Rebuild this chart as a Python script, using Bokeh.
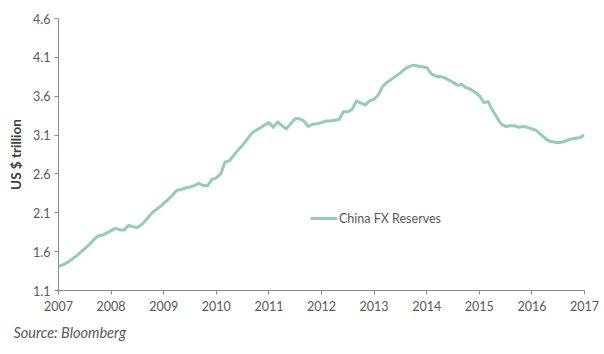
from bokeh.plotting import figure
from bokeh.models import FixedTicker, Legend, LegendItem, Range1d, Title
from bokeh.embed import file_html
from bokeh.resources import INLINE

# Monthly China FX reserves, US$ trillion, Jan 2007 .. Jan 2017
start_year = 2007
reserves = [
    1.41, 1.43, 1.46, 1.50, 1.54, 1.59, 1.64, 1.69, 1.75, 1.80, 1.81, 1.84,
    1.87, 1.90, 1.88, 1.88, 1.94, 1.92, 1.91, 1.95, 2.01, 2.08, 2.13, 2.17,
    2.22, 2.27, 2.33, 2.39, 2.40, 2.42, 2.43, 2.45, 2.48, 2.45, 2.45, 2.53,
    2.55, 2.60, 2.75, 2.77, 2.84, 2.91, 2.97, 3.04, 3.12, 3.16, 3.19, 3.23,
    3.26, 3.20, 3.27, 3.22, 3.18, 3.25, 3.31, 3.31, 3.28, 3.21, 3.24, 3.245,
    3.26, 3.28, 3.28, 3.29, 3.30, 3.40, 3.40, 3.43, 3.54, 3.51, 3.49, 3.54,
    3.56, 3.62, 3.73, 3.78, 3.82, 3.86, 3.90, 3.95, 3.98, 4.00, 3.99, 3.98,
    3.97, 3.89, 3.86, 3.85, 3.84, 3.81, 3.78, 3.74, 3.75, 3.71, 3.69, 3.65,
    3.61, 3.52, 3.53, 3.42, 3.33, 3.24, 3.21, 3.22, 3.22, 3.20, 3.21, 3.20,
    3.18, 3.16, 3.11, 3.06, 3.02, 3.01, 3.00, 3.01, 3.03, 3.05, 3.06, 3.07,
    3.10,
]
year_ticks = [2007, 2008, 2009, 2010, 2011, 2012, 2013, 2014, 2015, 2016, 2017]
y_ticks = [1.1, 1.6, 2.1, 2.6, 3.1, 3.6, 4.1, 4.6]
series_name = "China FX Reserves"
y_title = "US $ trillion"
source_text = "Source: Bloomberg"

x = [start_year + i / 12 for i in range(len(reserves))]

FONT = "Lato"
GRAY = "#595959"
AXIS = "#8c8c8c"
LINE = "#93cdb3"

p = figure(width=604, height=354, output_backend="svg", toolbar_location=None,
           x_range=Range1d(2007, 2017), y_range=Range1d(1.1, 4.6),
           min_border_left=58, min_border_right=20, min_border_top=18,
           min_border_bottom=64)
p.outline_line_color = None
p.xgrid.grid_line_color = None
p.ygrid.grid_line_color = None
p.background_fill_color = "white"
p.border_fill_color = "white"

r = p.line(x, reserves, line_color=LINE, line_width=3, line_join="round")

p.xaxis.ticker = FixedTicker(ticks=year_ticks)
p.yaxis.ticker = FixedTicker(ticks=y_ticks)
for ax in (p.xaxis, p.yaxis):
    ax.axis_line_color = AXIS
    ax.major_tick_line_color = AXIS
    ax.minor_tick_line_color = None
    ax.major_tick_in = 0
    ax.major_tick_out = 4
    ax.major_label_text_font = FONT
    ax.major_label_text_font_size = "12.5px"
    ax.major_label_text_color = GRAY
p.xaxis.major_label_standoff = 6
p.yaxis.major_label_standoff = 4

p.yaxis.axis_label = y_title
p.yaxis.axis_label_text_font = FONT
p.yaxis.axis_label_text_font_size = "13.5px"
p.yaxis.axis_label_text_font_style = "bold"
p.yaxis.axis_label_text_color = "#404040"
p.yaxis.axis_label_standoff = 6

legend = Legend(items=[LegendItem(label=series_name, renderers=[r])],
                location=(252, 62), padding=0, margin=0, glyph_width=27,
                glyph_height=20, label_standoff=2, border_line_alpha=0,
                background_fill_alpha=0, label_text_font=FONT,
                label_text_font_size="12.5px", label_text_color=GRAY)
p.add_layout(legend)

p.add_layout(Title(text=source_text, align="left", offset=-45, standoff=16,
                   text_font=FONT, text_font_size="14.5px",
                   text_font_style="italic", text_color=GRAY), "below")

open("out.html", "w").write(file_html(p, INLINE))
